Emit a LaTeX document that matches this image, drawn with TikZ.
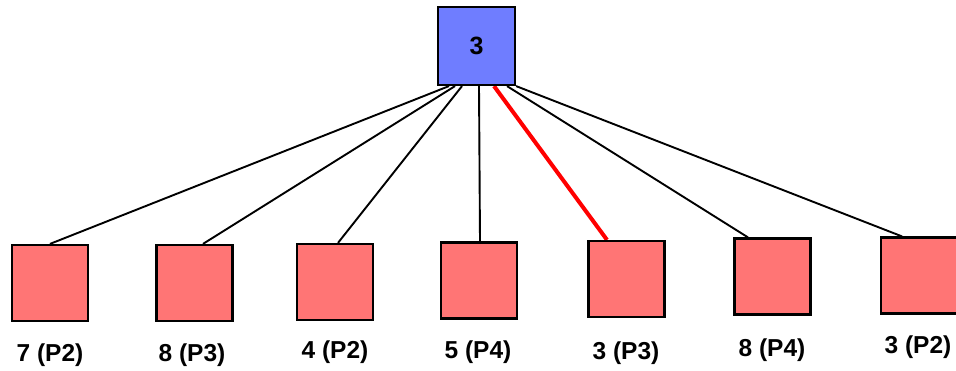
\documentclass[tikz,border=0pt]{standalone}
\usepackage{fontspec}
\setmainfont{Liberation Sans}
\usetikzlibrary{backgrounds}
\definecolor{topblue}{RGB}{111,125,255}
\definecolor{leafred}{RGB}{255,117,117}
\begin{document}
\begin{tikzpicture}[x=1pt,y=-1pt,
  topbox/.style={draw=black,line width=2.2pt,fill=topblue,minimum width=77pt,minimum height=78pt,inner sep=0pt,font=\bfseries\fontsize{25}{27}\selectfont},
  leafbox/.style={draw=black,line width=2.2pt,fill=leafred,minimum width=76pt,minimum height=76pt,inner sep=0pt},
  lbl/.style={font=\bfseries\fontsize{24.5}{27}\selectfont,inner sep=0pt},
  edge/.style={line width=1.9pt,black},
  hot/.style={line width=4pt,red}]
\useasboundingbox (0,0) rectangle (956,371);
\node[topbox] (root) at (476.5,46) {3};
\node[leafbox] (n1) at (50,283) {};
\node[leafbox] (n2) at (194.5,283) {};
\node[leafbox] (n3) at (335,282) {};
\node[leafbox] (n4) at (479,280.5) {};
\node[leafbox] (n5) at (626.5,279) {};
\node[leafbox] (n6) at (772.5,276.5) {};
\node[leafbox] (n7) at (919,275.5) {};
\node[lbl] (l1) at (50,355) {7 (P2)};
\node[lbl] (l2) at (192,355) {8 (P3)};
\node[lbl] (l3) at (335,352) {4 (P2)};
\node[lbl] (l4) at (478,352) {5 (P4)};
\node[lbl] (l5) at (626,353) {3 (P3)};
\node[lbl] (l6) at (772,350) {8 (P4)};
\node[lbl] (l7) at (918,347) {3 (P2)};
\begin{scope}[on background layer]
\draw[edge] ([xshift=-27.5pt]root.south) -- ([xshift=0pt]n1.north);
\draw[edge] ([xshift=-21.5pt]root.south) -- ([xshift=8.5pt]n2.north);
\draw[edge] ([xshift=-14.5pt]root.south) -- ([xshift=3pt]n3.north);
\draw[edge] ([xshift=2.5pt]root.south) -- ([xshift=1pt]n4.north);
\draw[hot] ([xshift=17.5pt]root.south) -- ([xshift=-19.5pt]n5.north);
\draw[edge] ([xshift=30.5pt]root.south) -- ([xshift=-24.5pt]n6.north);
\draw[edge] (root.south east) -- ([xshift=-17pt]n7.north);
\end{scope}
\end{tikzpicture}
\end{document}
